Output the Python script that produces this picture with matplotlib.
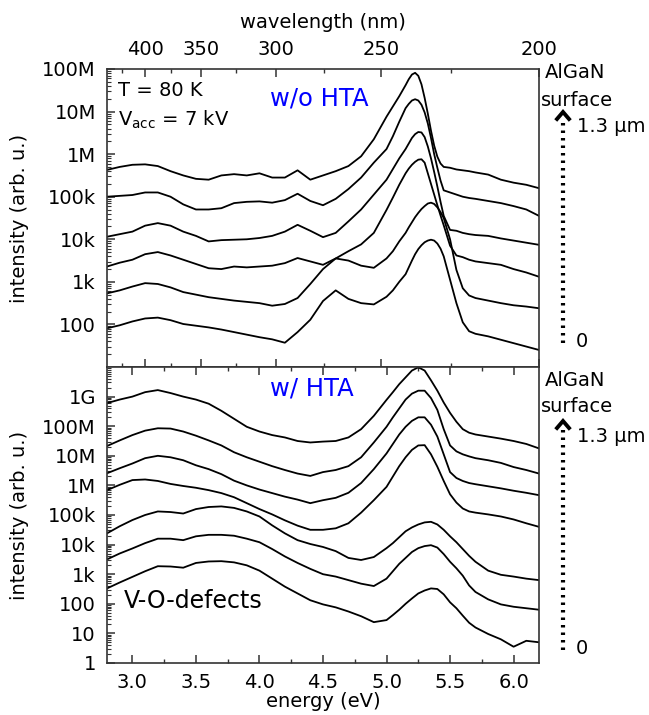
import numpy as np
import matplotlib
matplotlib.use('Agg')
import matplotlib.pyplot as plt
from matplotlib.lines import Line2D
from matplotlib.ticker import FixedLocator, FixedFormatter, LogLocator, NullFormatter

plt.rcParams['font.family'] = ['DejaVu Sans']
plt.rcParams['mathtext.fontset'] = 'dejavusans'

# photon energy (eV) of the w/o HTA spectra (finer around the band-edge peak)
energy_top = [2.8, 2.9, 3.0, 3.1, 3.2, 3.3, 3.4, 3.5, 3.6, 3.7, 3.8, 3.9, 4.0, 4.1,
              4.2, 4.3, 4.4, 4.5, 4.6, 4.7, 4.8, 4.9, 5.0, 5.05, 5.1, 5.15, 5.175,
              5.2, 5.225, 5.25, 5.275, 5.3, 5.325, 5.35, 5.375, 5.4, 5.425, 5.45,
              5.5, 5.55, 5.6, 5.65, 5.7, 5.8, 5.9, 6.0, 6.1, 6.2]
# photon energy (eV) of the w/ HTA spectra
energy_bot = [2.8, 2.9, 3.0, 3.1, 3.2, 3.3, 3.4, 3.5, 3.6, 3.7, 3.8, 3.9, 4.0, 4.1,
              4.2, 4.3, 4.4, 4.5, 4.6, 4.7, 4.8, 4.9, 5.0, 5.05, 5.1, 5.15, 5.2,
              5.25, 5.3, 5.35, 5.4, 5.45, 5.5, 5.55, 5.6, 5.65, 5.7, 5.8, 5.9,
              6.0, 6.1, 6.2]

# w/o HTA, log10(intensity), from depth 0 (bottom) to 1.3 um (top)
wo_0 = [1.91, 1.98, 2.07, 2.14, 2.16, 2.10, 2.01, 1.97, 1.93, 1.88, 1.82, 1.76, 1.70, 1.65,
        1.57, 1.82, 2.11, 2.55, 2.80, 2.60, 2.50, 2.47,
        2.65, 2.80, 3.00, 3.18, 3.34, 3.50, 3.65, 3.77, 3.86, 3.93, 3.97, 3.99, 3.97,
        3.90, 3.78, 3.60, 3.05, 2.50, 2.05, 1.84, 1.78, 1.72, 1.64, 1.56, 1.48, 1.40]
wo_1 = [2.73, 2.80, 2.89, 2.97, 2.95, 2.87, 2.76, 2.70, 2.64, 2.60, 2.56, 2.53, 2.50, 2.44,
        2.48, 2.62, 2.95, 3.30, 3.55, 3.50, 3.38, 3.33,
        3.55, 3.72, 3.95, 4.15, 4.28, 4.40, 4.52, 4.62, 4.71, 4.78, 4.84, 4.86, 4.83,
        4.75, 4.64, 4.50, 4.00, 3.28, 2.85, 2.68, 2.62, 2.56, 2.50, 2.45, 2.42, 2.38]
wo_2 = [3.36, 3.45, 3.52, 3.65, 3.70, 3.62, 3.52, 3.42, 3.32, 3.30, 3.36, 3.34, 3.36, 3.38,
        3.44, 3.56, 3.48, 3.40, 3.55, 3.72, 3.88, 4.15,
        4.69, 4.98, 5.28, 5.55, 5.66, 5.75, 5.82, 5.87, 5.88, 5.80, 5.55, 5.30, 5.05,
        4.80, 4.56, 4.33, 3.85, 3.62, 3.58, 3.52, 3.48, 3.44, 3.40, 3.30, 3.22, 3.12]
wo_3 = [4.06, 4.12, 4.18, 4.32, 4.38, 4.32, 4.18, 4.08, 3.95, 3.98, 3.99, 4.00, 4.03, 4.08,
        4.18, 4.34, 4.20, 4.05, 4.15, 4.42, 4.70, 5.05,
        5.40, 5.65, 5.90, 6.12, 6.25, 6.38, 6.47, 6.52, 6.51, 6.40, 6.18, 5.90, 5.58,
        5.24, 4.88, 4.55, 4.22, 4.20, 4.15, 4.12, 4.10, 4.08, 4.02, 3.97, 3.92, 3.87]
wo_4 = [5.00, 5.02, 5.04, 5.10, 5.10, 5.00, 4.82, 4.70, 4.70, 4.73, 4.85, 4.88, 4.89, 4.86,
        4.92, 5.07, 4.90, 4.80, 4.95, 5.18, 5.45, 5.80,
        6.12, 6.42, 6.76, 7.08, 7.18, 7.26, 7.29, 7.26, 7.16, 6.98, 6.72, 6.38, 6.00,
        5.68, 5.38, 5.15, 5.10, 5.05, 5.00, 4.97, 4.95, 4.90, 4.85, 4.78, 4.70, 4.55]
wo_5 = [5.63, 5.70, 5.75, 5.76, 5.72, 5.60, 5.50, 5.42, 5.40, 5.50, 5.53, 5.50, 5.55, 5.45,
        5.45, 5.62, 5.40, 5.50, 5.60, 5.72, 5.95, 6.35,
        6.88, 7.12, 7.36, 7.62, 7.76, 7.87, 7.91, 7.84, 7.64, 7.32, 6.95, 6.55, 6.20,
        5.94, 5.78, 5.70, 5.68, 5.64, 5.62, 5.60, 5.57, 5.52, 5.40, 5.33, 5.28, 5.20]

# w/ HTA, log10(intensity), from depth 0 (bottom) to 1.3 um (top)
w_0 = [2.52, 2.72, 2.91, 3.10, 3.27, 3.26, 3.22, 3.38, 3.43, 3.44, 3.40, 3.30, 3.12, 2.85,
       2.58, 2.35, 2.12, 1.98, 1.88, 1.74, 1.58, 1.38, 1.45, 1.62, 1.80, 2.00, 2.18,
       2.35, 2.45, 2.52, 2.50, 2.32, 2.05, 1.85, 1.60, 1.36, 1.20, 0.98, 0.80,
       0.55, 0.75, 0.70]
w_1 = [3.50, 3.70, 3.87, 4.05, 4.20, 4.20, 4.15, 4.28, 4.33, 4.33, 4.30, 4.20, 4.08, 3.85,
       3.60, 3.38, 3.18, 3.00, 2.92, 2.80, 2.68, 2.60, 2.85, 3.10, 3.35, 3.55, 3.75,
       3.88, 3.95, 3.98, 3.90, 3.68, 3.42, 3.20, 2.95, 2.62, 2.40, 2.15, 1.98,
       1.90, 1.85, 1.80]
w_2 = [4.38, 4.62, 4.83, 5.00, 5.12, 5.10, 5.05, 5.20, 5.27, 5.29, 5.24, 5.12, 4.95, 4.65,
       4.38, 4.15, 4.02, 3.92, 3.78, 3.55, 3.48, 3.58, 3.88, 4.05, 4.25, 4.45, 4.58,
       4.68, 4.75, 4.77, 4.68, 4.50, 4.28, 4.08, 3.85, 3.62, 3.42, 3.12, 2.98,
       2.92, 2.85, 2.80]
w_3 = [5.84, 6.02, 6.18, 6.20, 6.15, 6.05, 5.98, 5.92, 5.84, 5.74, 5.60, 5.40, 5.20, 5.02,
       4.82, 4.64, 4.50, 4.50, 4.55, 4.72, 5.08, 5.50, 5.95, 6.30, 6.65, 6.95, 7.20,
       7.35, 7.36, 7.05, 6.63, 6.15, 5.70, 5.42, 5.22, 5.12, 5.08, 5.02, 4.95,
       4.85, 4.72, 4.60]
w_4 = [6.41, 6.58, 6.74, 6.92, 7.00, 6.95, 6.85, 6.68, 6.55, 6.38, 6.16, 6.00, 5.86, 5.74,
       5.62, 5.52, 5.40, 5.50, 5.58, 5.75, 6.08, 6.55, 7.08, 7.40, 7.72, 7.98, 8.18,
       8.30, 8.30, 8.05, 7.65, 7.05, 6.45, 6.25, 6.15, 6.08, 6.04, 5.97, 5.90,
       5.82, 5.75, 5.67]
w_5 = [7.33, 7.52, 7.70, 7.85, 7.93, 7.92, 7.82, 7.68, 7.52, 7.35, 7.12, 6.95, 6.80, 6.65,
       6.52, 6.40, 6.32, 6.45, 6.52, 6.65, 6.95, 7.45, 7.98, 8.30, 8.60, 8.90, 9.10,
       9.20, 9.20, 8.95, 8.55, 7.90, 7.35, 7.15, 7.05, 6.98, 6.92, 6.85, 6.76,
       6.62, 6.52, 6.40]
w_6 = [8.78, 8.90, 9.00, 9.15, 9.22, 9.12, 9.00, 8.90, 8.76, 8.52, 8.25, 7.98, 7.82, 7.70,
       7.62, 7.50, 7.45, 7.48, 7.50, 7.62, 7.90, 8.35, 8.89, 9.15, 9.42, 9.65, 9.88,
       9.99, 9.88, 9.55, 9.20, 8.80, 8.45, 8.15, 7.90, 7.78, 7.72, 7.65, 7.58,
       7.50, 7.40, 7.25]

top_spectra = [wo_0, wo_1, wo_2, wo_3, wo_4, wo_5]
bottom_spectra = [w_0, w_1, w_2, w_3, w_4, w_5, w_6]

top_yticks = [1e2, 1e3, 1e4, 1e5, 1e6, 1e7, 1e8]
top_ylabels = ['100', '1k', '10k', '100k', '1M', '10M', '100M']
bot_yticks = [1e0, 1e1, 1e2, 1e3, 1e4, 1e5, 1e6, 1e7, 1e8, 1e9]
bot_ylabels = ['1', '10', '100', '1k', '10k', '100k', '1M', '10M', '100M', '1G']
e_ticks = [3.0, 3.5, 4.0, 4.5, 5.0, 5.5, 6.0]
e_minor = [3.25, 3.75, 4.25, 4.75, 5.25, 5.75]
wl_ticks = [400, 350, 300, 250, 200]
wl_minor = [425, 375, 325, 275, 225]

W, H = 649, 715
fig = plt.figure(figsize=(W / 100, H / 100), dpi=100)


def fx(x):
    return x / W


def fy(y):
    return 1 - y / H


ax1 = fig.add_axes([fx(107), fy(367), fx(539) - fx(107), fy(69) - fy(367)])
ax2 = fig.add_axes([fx(107), fy(663), fx(539) - fx(107), fy(367) - fy(663)])

for s in top_spectra:
    ax1.plot(energy_top, 10 ** np.array(s), color='black', lw=1.3)
for s in bottom_spectra:
    ax2.plot(energy_bot, 10 ** np.array(s), color='black', lw=1.3)

for ax in (ax1, ax2):
    ax.set_yscale('log')
    for sp in ax.spines.values():
        sp.set_linewidth(1.2)
        sp.set_color('#333333')
    ax.yaxis.set_minor_locator(LogLocator(base=10, subs=np.arange(2, 10), numticks=30))
    ax.yaxis.set_minor_formatter(NullFormatter())
    ax.tick_params(axis='both', which='both', direction='in', labelsize=14, color='#333333')
    ax.tick_params(axis='y', which='major', length=6, width=1.1, pad=8)
    ax.tick_params(axis='y', which='minor', length=3, width=0.8)
    ax.tick_params(axis='x', which='major', length=6, width=1.1, pad=7)
    ax.tick_params(axis='x', which='minor', length=3, width=1.0)

ax1.yaxis.set_major_locator(FixedLocator(top_yticks))
ax1.yaxis.set_major_formatter(FixedFormatter(top_ylabels))
ax2.yaxis.set_major_locator(FixedLocator(bot_yticks))
ax2.yaxis.set_major_formatter(FixedFormatter(bot_ylabels))

ax1.tick_params(axis='x', which='both', bottom=False, labelbottom=False)
ax2.set_xticks(e_ticks)
ax2.set_xticklabels(['%.1f' % e for e in e_ticks])
ax2.set_xticks(e_minor, minor=True)
ax2.tick_params(axis='x', which='both', top=True)
ax2.set_xlabel('energy (eV)', fontsize=14, labelpad=0)

for ax in (ax1, ax2):
    ax.set_xlim(2.8, 6.2)
ax1.set_ylim(10, 1e8)
ax2.set_ylim(1, 1e10)


def e2w(x):
    x = np.array(x, dtype=float)
    with np.errstate(divide='ignore'):
        return 1239.84 / x


for loc in ('top', 'bottom'):
    sec = ax1.secondary_xaxis(loc, functions=(e2w, e2w))
    sec.set_xticks(wl_ticks)
    sec.set_xticks(wl_minor, minor=True)
    sec.tick_params(which='both', direction='in', color='#333333')
    sec.tick_params(which='major', length=6, width=1.1)
    sec.tick_params(which='minor', length=3, width=1.0)
    sec.spines[loc].set_visible(False)
    if loc == 'top':
        sec.set_xticklabels([str(w) for w in wl_ticks])
        sec.tick_params(labelsize=14, pad=7)
        sec.set_xlabel('wavelength (nm)', fontsize=14, labelpad=9)
    else:
        sec.tick_params(labelbottom=False)

for ax in (ax1, ax2):
    ax.set_ylabel('intensity (arb. u.)', fontsize=14)
    ax.yaxis.set_label_coords(-0.18, 0.5)

# panel texts
fig.text(fx(118), fy(90), 'T = 80 K', fontsize=14, va='center', ha='left')
fig.text(fx(118), fy(120), r'V$_{\mathregular{acc}}$ = 7 kV', fontsize=14, va='center', ha='left')
fig.text(fx(270), fy(99), 'w/o HTA', fontsize=17.5, color='blue', va='center', ha='left')
fig.text(fx(270), fy(389), 'w/ HTA', fontsize=17.5, color='blue', va='center', ha='left')
fig.text(fx(124), fy(601), 'V-O-defects', fontsize=17, va='center', ha='left')

# depth arrows on the right
for y_al, y_head, y_end in ((73, 112, 343), (380, 421, 650)):
    fig.text(fx(545), fy(y_al), 'AlGaN', fontsize=14, va='center', ha='left')
    fig.text(fx(541), fy(y_al + 27), 'surface', fontsize=14, va='center', ha='left')
    fig.text(fx(577), fy(y_head + 15), '1.3 \u00b5m', fontsize=14, va='center', ha='left')
    fig.text(fx(576), fy(y_end - 2), '0', fontsize=14, va='center', ha='left')
    fig.add_artist(Line2D([fx(563), fx(563)], [fy(y_end), fy(y_head + 6)],
                          transform=fig.transFigure, color='black', lw=3,
                          linestyle=(0, (0.6, 1.2))))
    fig.add_artist(Line2D([fx(557), fx(563), fx(569)], [fy(y_head + 7), fy(y_head), fy(y_head + 7)],
                          transform=fig.transFigure, color='black', lw=2.8,
                          solid_joinstyle='miter'))

fig.savefig('out.png', dpi=100)
